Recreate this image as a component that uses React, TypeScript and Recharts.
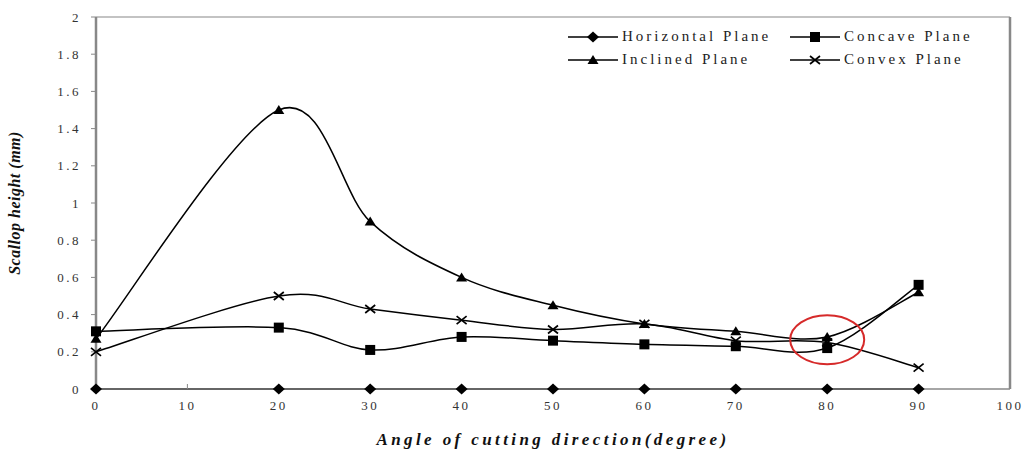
import React from 'react';
import {
  LineChart,
  Line,
  XAxis,
  YAxis,
  ReferenceLine,
  ReferenceDot,
} from 'recharts';

const angles = [0, 20, 30, 40, 50, 60, 70, 80, 90];
const horizontal = [0, 0, 0, 0, 0, 0, 0, 0, 0];
const concave = [0.31, 0.33, 0.21, 0.28, 0.26, 0.24, 0.23, 0.22, 0.56];
const inclined = [0.27, 1.5, 0.9, 0.6, 0.45, 0.35, 0.31, 0.28, 0.52];
const convex = [0.2, 0.5, 0.43, 0.37, 0.32, 0.35, 0.26, 0.25, 0.115];
const xTicks = [0, 10, 20, 30, 40, 50, 60, 70, 80, 90, 100];
const yTicks = [0, 0.2, 0.4, 0.6, 0.8, 1, 1.2, 1.4, 1.6, 1.8, 2];

const data = angles.map((a, i) => ({
  angle: a,
  horizontal: horizontal[i],
  concave: concave[i],
  inclined: inclined[i],
  convex: convex[i],
}));

const SERIF = '"Liberation Serif", "Times New Roman", serif';

// Excel-style smoothed line (Catmull-Rom through the points)
const excelSmooth = (context: any) => {
  let pts: number[][] = [];
  return {
    areaStart() {},
    areaEnd() {},
    lineStart() {
      pts = [];
    },
    point(x: number, y: number) {
      pts.push([+x, +y]);
    },
    lineEnd() {
      if (!pts.length) return;
      context.moveTo(pts[0][0], pts[0][1]);
      for (let i = 0; i < pts.length - 1; i++) {
        const p0 = pts[i - 1] || pts[i];
        const p1 = pts[i];
        const p2 = pts[i + 1];
        const p3 = pts[i + 2] || p2;
        context.bezierCurveTo(
          p1[0] + (p2[0] - p0[0]) / 6,
          p1[1] + (p2[1] - p0[1]) / 6,
          p2[0] - (p3[0] - p1[0]) / 6,
          p2[1] - (p3[1] - p1[1]) / 6,
          p2[0],
          p2[1]
        );
      }
    },
  };
};

const Marker = ({ kind, cx, cy }: { kind: string; cx: number; cy: number }) => {
  if (kind === 'diamond') {
    return <path d={`M${cx - 6},${cy} L${cx},${cy - 5.5} L${cx + 6},${cy} L${cx},${cy + 5.5} Z`} fill="#000" />;
  }
  if (kind === 'square') {
    return <rect x={cx - 5} y={cy - 5} width={10} height={10} fill="#000" />;
  }
  if (kind === 'triangle') {
    return <path d={`M${cx - 5.5},${cy + 4} L${cx},${cy - 5} L${cx + 5.5},${cy + 4} Z`} fill="#000" />;
  }
  return (
    <path
      d={`M${cx - 5},${cy - 4} L${cx + 5},${cy + 4} M${cx - 5},${cy + 4} L${cx + 5},${cy - 4}`}
      stroke="#000"
      strokeWidth={1.7}
      fill="none"
    />
  );
};

const dotFor = (kind: string) => (props: any) => (
  <g key={`${kind}-${props.index}`}>
    <Marker kind={kind} cx={props.cx} cy={props.cy} />
  </g>
);

const legendItems = [
  { name: 'Horizontal Plane', kind: 'diamond' },
  { name: 'Concave Plane', kind: 'square' },
  { name: 'Inclined Plane', kind: 'triangle' },
  { name: 'Convex Plane', kind: 'cross' },
];

const LegendBox = () => (
  <div
    style={{
      position: 'absolute',
      left: 566,
      top: 27,
      width: 440,
      display: 'grid',
      gridTemplateColumns: '222px 210px',
      rowGap: 4,
      fontFamily: SERIF,
      fontSize: 15,
      letterSpacing: 3,
      color: '#222',
    }}
  >
    {legendItems.map((it) => (
      <div key={it.name} style={{ display: 'flex', alignItems: 'center', height: 19 }}>
        <svg width={56} height={14} style={{ flex: 'none' }}>
          <line x1={2} y1={7} x2={52} y2={7} stroke="#000" strokeWidth={1.5} />
          <Marker kind={it.kind} cx={27} cy={7} />
        </svg>
        <span style={{ whiteSpace: 'nowrap' }}>{it.name}</span>
      </div>
    ))}
  </div>
);

const RedCircle = (props: any) => (
  <ellipse cx={props.cx} cy={props.cy} rx={37} ry={24.5} fill="none" stroke="#d62a2a" strokeWidth={2} />
);

export default function App() {
  return (
    <div style={{ position: 'relative', width: 1027, height: 452, background: '#fff' }}>
      <style>{`body{margin:0}`}</style>
      <LineChart width={1027} height={452} data={data} margin={{ top: 17, right: 17, left: 0, bottom: 0 }}>
        <XAxis
          dataKey="angle"
          type="number"
          domain={[0, 100]}
          ticks={xTicks}
          height={63}
          stroke="#888"
          axisLine={{ stroke: '#888', strokeWidth: 1.5 }}
          tickLine={{ stroke: '#888' }}
          tickSize={-5}
          tickMargin={17}
          tick={{ fill: '#333', fontSize: 13, fontFamily: SERIF, letterSpacing: 2.5 }}
          label={{
            value: 'Angle of cutting direction(degree)',
            position: 'insideBottom',
            offset: 7,
            style: {
              fontFamily: SERIF,
              fontSize: 17,
              fontWeight: 'bold',
              fontStyle: 'italic',
              letterSpacing: 3.4,
              fill: '#111',
            },
          }}
        />
        <YAxis
          type="number"
          domain={[0, 2]}
          ticks={yTicks}
          width={96}
          axisLine={{ stroke: '#888', strokeWidth: 2.5 }}
          tickLine={{ stroke: '#888' }}
          tickSize={5}
          tickMargin={10}
          tick={{ fill: '#333', fontSize: 13, fontFamily: SERIF, letterSpacing: 2.5 }}
          label={{
            value: 'Scallop height (mm)',
            angle: -90,
            position: 'insideLeft',
            offset: 14,
            style: {
              textAnchor: 'middle',
              fontFamily: SERIF,
              fontSize: 16,
              fontWeight: 'bold',
              fontStyle: 'italic',
              letterSpacing: 0.5,
              fill: '#111',
            },
          }}
        />
        <ReferenceLine y={2} stroke="#888" strokeWidth={1.2} />
        <ReferenceLine x={100} stroke="#888" strokeWidth={2.5} />
        <Line
          dataKey="horizontal"
          type={excelSmooth as any}
          stroke="#000"
          strokeWidth={2.2}
          dot={dotFor('diamond')}
          activeDot={false}
          isAnimationActive={false}
        />
        <Line
          dataKey="concave"
          type={excelSmooth as any}
          stroke="#000"
          strokeWidth={1.5}
          dot={dotFor('square')}
          activeDot={false}
          isAnimationActive={false}
        />
        <Line
          dataKey="inclined"
          type={excelSmooth as any}
          stroke="#000"
          strokeWidth={1.5}
          dot={dotFor('triangle')}
          activeDot={false}
          isAnimationActive={false}
        />
        <Line
          dataKey="convex"
          type={excelSmooth as any}
          stroke="#000"
          strokeWidth={1.5}
          dot={dotFor('cross')}
          activeDot={false}
          isAnimationActive={false}
        />
        <ReferenceDot x={80} y={0.265} shape={RedCircle} />
      </LineChart>
      <LegendBox />
    </div>
  );
}
